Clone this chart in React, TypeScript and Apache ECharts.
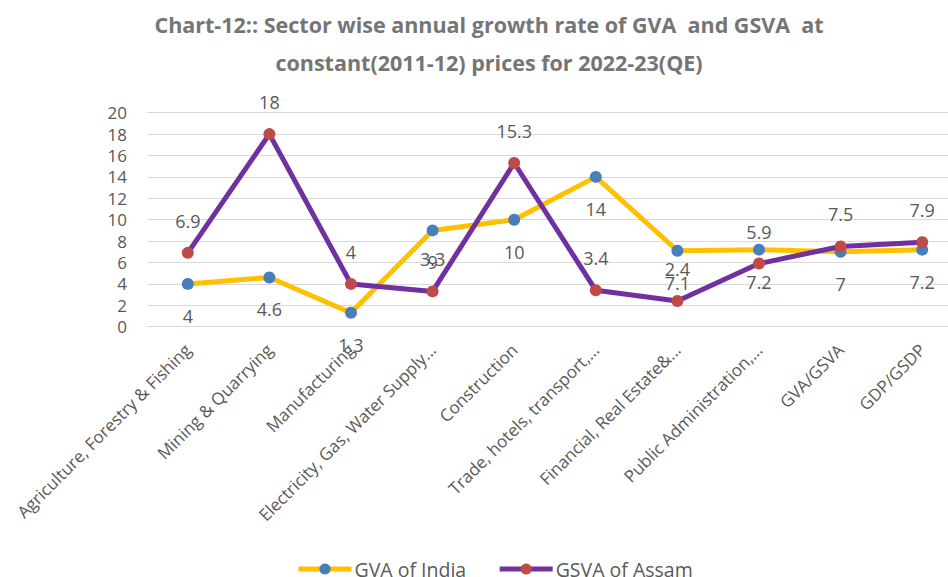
import React, { useEffect, useRef } from "react";
import * as echarts from "echarts";

const titleLines = [
  "Chart-12:: Sector wise annual growth rate of GVA  and GSVA  at",
  "constant(2011-12) prices for 2022-23(QE)",
];

const categories = [
  "Agriculture, Forestry & Fishing",
  "Mining & Quarrying",
  "Manufacturing",
  "Electricity, Gas, Water Supply...",
  "Construction",
  "Trade, hotels, transport,...",
  "Financial, Real Estate&...",
  "Public Administration,...",
  "GVA/GSVA",
  "GDP/GSDP",
];

const gvaIndia = [4, 4.6, 1.3, 9, 10, 14, 7.1, 7.2, 7, 7.2];
const gsvaAssam = [6.9, 18, 4, 3.3, 15.3, 3.4, 2.4, 5.9, 7.5, 7.9];

const seriesNames = ["GVA of India", "GSVA of Assam"];

const yMin = 0;
const yMax = 20;
const yStep = 2;

const FONT = "'Open Sans', 'Noto Sans', sans-serif";
const GREY = "#595959";

export default function App() {
  const ref = useRef<HTMLDivElement>(null);

  useEffect(() => {
    if (!ref.current) return;
    document.body.style.overflow = "hidden";
    const chart = echarts.init(ref.current, undefined, { renderer: "svg" });
    chart.setOption({
      animation: false,
      backgroundColor: "#ffffff",
      textStyle: { fontFamily: FONT },
      graphic: [
        {
          type: "text",
          x: 489,
          y: 5,
          style: {
            text: titleLines.join("\n"),
            textAlign: "center",
            fontFamily: FONT,
            fontWeight: "bold",
            fontSize: 21.5,
            lineHeight: 38,
            fill: "#757575",
          },
        },
      ],
      grid: {
        left: 147,
        right: 0,
        top: 112.7,
        bottom: 250.3,
      },
      legend: {
        top: 552,
        left: 291,
        padding: 5,
        itemWidth: 53,
        itemHeight: 14,
        itemGap: 31,
        lineStyle: { width: 5 },
        textStyle: {
          color: GREY,
          fontSize: 19.5,
          lineHeight: 24,
          fontFamily: FONT,
          padding: [0, 0, 0, -2],
        },
        data: seriesNames,
      },
      xAxis: {
        type: "category",
        data: categories,
        boundaryGap: true,
        axisLine: { lineStyle: { color: "#D9D9D9", width: 1 } },
        axisTick: { show: false },
        axisLabel: {
          rotate: 45,
          interval: 0,
          color: GREY,
          fontSize: 17,
          fontFamily: FONT,
          margin: 20,
        },
      },
      yAxis: {
        type: "value",
        min: yMin,
        max: yMax,
        interval: yStep,
        axisLine: { show: false },
        axisTick: { show: false },
        splitLine: { lineStyle: { color: "#D9D9D9", width: 1 } },
        axisLabel: { color: GREY, fontSize: 17, fontFamily: FONT, margin: 20 },
      },
      series: [
        {
          name: seriesNames[0],
          type: "line",
          data: gvaIndia,
          symbol: "circle",
          symbolSize: 12,
          lineStyle: { color: "#FFC000", width: 5 },
          itemStyle: { color: "#4A7EBB", borderWidth: 0 },
          label: {
            show: true,
            position: "bottom",
            distance: 17,
            color: GREY,
            fontSize: 18,
            fontFamily: FONT,
          },
          z: 2,
        },
        {
          name: seriesNames[1],
          type: "line",
          data: gsvaAssam,
          symbol: "circle",
          symbolSize: 12,
          lineStyle: { color: "#7030A0", width: 5 },
          itemStyle: { color: "#BE4B48", borderWidth: 0 },
          label: {
            show: true,
            position: "top",
            distance: 17,
            color: GREY,
            fontSize: 18,
            fontFamily: FONT,
          },
          z: 3,
        },
      ],
    });
    return () => chart.dispose();
  }, []);

  return (
    <div
      ref={ref}
      style={{ position: "fixed", left: 0, top: 0, width: 963, height: 577 }}
    />
  );
}
